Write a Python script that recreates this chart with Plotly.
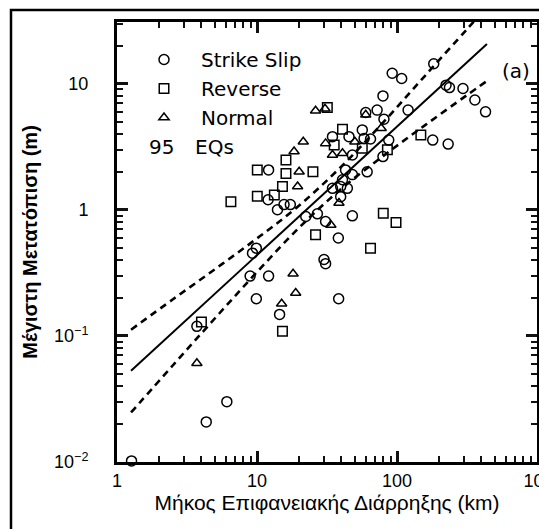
import plotly.graph_objects as go

# ---- data (km, m) ----
ss_x = [1.27, 4.34, 6.09, 3.72, 9.29, 9.89, 8.93, 12.1, 9.89, 14.5, 12.1, 12.0, 14.0, 15.6, 17.3,
        22.3, 27.0, 30.9, 30.1, 30.9, 38.1, 38.3, 48.0, 34.6, 39.6, 44.2, 39.6, 40.8, 42.9, 48.0,
        48.0, 45.4, 56.5, 59.8, 72.1, 79.4, 79.4, 87.3, 92.4, 108, 120, 183, 180, 232, 224, 237,
        296, 360, 429, 80.7, 34.6, 58.2, 64.7, 61.2]
ss_y = [0.0102, 0.0208, 0.0301, 0.119, 0.453, 0.496, 0.298, 0.298, 0.197, 0.148, 2.07, 1.20, 1.00,
        1.10, 1.10, 0.885, 0.929, 0.807, 0.403, 0.374, 0.597, 0.197, 0.895, 1.48, 1.53, 1.48, 1.27,
        1.73, 2.07, 2.72, 1.90, 3.80, 4.30, 5.91, 6.17, 8.00, 2.64, 3.57, 12.1, 11.0, 6.17, 14.4,
        3.57, 3.32, 9.73, 9.31, 9.15, 7.42, 5.98, 5.23, 3.80, 3.68, 3.64, 2.00]

rv_x = [4.01, 15.2, 6.51, 10.05, 10.05, 13.3, 16.1, 16.1, 15.2, 25.1, 31.8, 40.8, 35.6, 56.5,
        85.4, 148, 26.2, 64.7, 79.8, 98.4]
rv_y = [0.129, 0.109, 1.16, 2.07, 1.28, 1.31, 2.48, 1.94, 1.53, 2.00, 6.48, 4.35, 3.26, 3.08,
        2.99, 3.92, 0.634, 0.496, 0.940, 0.792]

nm_x = [3.72, 15.0, 18.9, 18.1, 33.7, 38.5, 19.5, 20.0, 18.4, 21.4, 26.2, 30.6, 30.9, 34.6,
        40.8, 50.0, 77.1, 59.8]
nm_y = [0.0606, 0.180, 0.219, 0.311, 0.758, 1.13, 1.53, 2.00, 2.90, 3.46, 6.10, 6.33, 3.36,
        2.72, 2.81, 3.46, 4.43, 5.66]

fit_x = [1.26, 439]
fit_y = [0.053, 20.6]

ci_x = [1.26, 2.51, 5.01, 10.0, 20.0, 39.8, 79.4, 158, 316, 439]
ci_up = [0.112, 0.195, 0.338, 0.593, 1.08, 2.19, 4.91, 11.5, 27.0, 40.6]
ci_lo = [0.0247, 0.0585, 0.138, 0.321, 0.722, 1.46, 2.66, 4.67, 8.11, 10.5]

x_major = [1, 10, 100, 1000]
x_major_text = ["1", "10", "100", "10<sup>3</sup>"]
y_major = [0.01, 0.1, 1, 10]
y_major_text = ["10<sup>\u22122</sup>", "10<sup>\u22121</sup>", "1", "10"]

x_minor = [m * d for d in (1, 10, 100) for m in range(2, 10)]
y_minor = [m * d for d in (0.01, 0.1, 1) for m in range(2, 10)] + [20, 30]

LBL = "Liberation Sans, Arial, sans-serif"
LEG = "DejaVu Sans, sans-serif"
X_RANGE = [0, 3]
Y_RANGE = [-2, 1.489]

fig = go.Figure()

def mk(sym, size):
    return dict(symbol=sym, color="black", size=size, line=dict(color="black", width=1.5))

fig.add_trace(go.Scatter(x=ss_x, y=ss_y, mode="markers", name="Strike Slip",
                         marker=mk("circle-open", 10), cliponaxis=False))
fig.add_trace(go.Scatter(x=rv_x, y=rv_y, mode="markers", name="Reverse",
                         marker=mk("square-open", 9.5), cliponaxis=False))
fig.add_trace(go.Scatter(x=nm_x, y=nm_y, mode="markers", name="Normal",
                         marker=mk("triangle-up-open", 9), cliponaxis=False))

fig.add_trace(go.Scatter(x=fit_x, y=fit_y, mode="lines", showlegend=False,
                         line=dict(color="black", width=2)))
fig.add_trace(go.Scatter(x=ci_x, y=ci_up, mode="lines", showlegend=False,
                         line=dict(color="black", width=2.6, dash="7px,5px", shape="spline")))
fig.add_trace(go.Scatter(x=ci_x, y=ci_lo, mode="lines", showlegend=False,
                         line=dict(color="black", width=2.6, dash="7px,5px", shape="spline")))

# invisible trace that carries the overlay axes (long major ticks)
fig.add_trace(go.Scatter(x=[10], y=[1], xaxis="x2", yaxis="y2", mode="markers",
                         marker=dict(size=1, opacity=0), showlegend=False, hoverinfo="skip"))

x_all = sorted(x_major + x_minor)
y_all = sorted(y_major + y_minor)
x_all_text = [x_major_text[x_major.index(v)] if v in x_major else "" for v in x_all]
y_all_text = [y_major_text[y_major.index(v)] if v in y_major else "" for v in y_all]

axis_common = dict(type="log", showgrid=False, zeroline=False, showline=True, linewidth=3,
                   linecolor="black", mirror="ticks", ticks="inside", ticklen=6, tickwidth=2.2,
                   tickcolor="#111111", ticklabeloverflow="allow", automargin=False,
                   tickfont=dict(family=LBL, size=18, color="black"))

overlay_common = dict(type="log", ticks="inside", ticklen=11, tickwidth=2.6, tickcolor="#111111",
                      mirror="ticks", showline=False, showgrid=False, zeroline=False,
                      showticklabels=False, automargin=False)

fig.update_layout(
    xaxis=dict(range=X_RANGE, tickvals=x_all, ticktext=x_all_text,
               title=dict(text="Μήκος Επιφανειακής Διάρρηξης (km)",
                          font=dict(family=LBL, size=21, color="black"), standoff=6),
               **axis_common),
    yaxis=dict(range=Y_RANGE, tickvals=y_all, ticktext=y_all_text, ticklabelstandoff=22,
               title=dict(text="<b>Μέγιστη Μετατόπιση (m)</b>",
                          font=dict(family=LBL, size=20, color="black"), standoff=12),
               **axis_common),
    xaxis2=dict(range=X_RANGE, overlaying="x", anchor="y2", side="bottom", tickvals=x_major,
                **overlay_common),
    yaxis2=dict(range=Y_RANGE, overlaying="y", anchor="x2", side="left", tickvals=y_major,
                **overlay_common),
)

# outer frame of the figure
fig.add_shape(type="rect", xref="paper", yref="paper",
              x0=(11 - 117) / 420, x1=(545 - 117) / 420,
              y0=(462 - 540) / 440, y1=(462 - 10) / 440,
              line=dict(color="black", width=2.5), layer="below")

fig.add_annotation(text="95", xref="paper", yref="paper", x=(147 - 117) / 420, y=(462 - 147) / 440,
                   xanchor="left", yanchor="middle", showarrow=False,
                   font=dict(family=LEG, size=20, color="black"))
fig.add_annotation(text="EQs", xref="paper", yref="paper", x=(193 - 117) / 420, y=(462 - 147) / 440,
                   xanchor="left", yanchor="middle", showarrow=False,
                   font=dict(family=LEG, size=20, color="black"))
fig.add_annotation(text="(a)", xref="paper", yref="paper", x=(516 - 117) / 420, y=(462 - 71) / 440,
                   xanchor="center", yanchor="middle", showarrow=False,
                   font=dict(family=LEG, size=20, color="black"))

fig.update_layout(
    width=539, height=529,
    margin=dict(l=117, r=2, t=22, b=67, autoexpand=False),
    paper_bgcolor="white", plot_bgcolor="white",
    legend=dict(x=(127 - 117) / 420, y=(462 - 40) / 440, xanchor="left", yanchor="top",
                font=dict(family=LEG, size=20, color="black"), bgcolor="rgba(0,0,0,0)",
                itemwidth=64, tracegroupgap=0),
)

fig.write_html("out.html")
